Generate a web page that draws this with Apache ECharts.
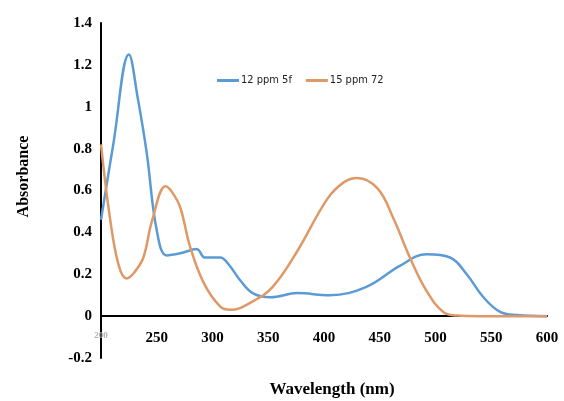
<!DOCTYPE html>
<html>
<head>
<meta charset="utf-8">
<script src="https://cdn.jsdelivr.net/npm/echarts@6/dist/echarts.min.js"></script>
<style>
  html, body { margin: 0; padding: 0; background: #fff; }
  #main { width: 564px; height: 401px; }
</style>
</head>
<body>
<div id="main"></div>
<script>
// series names
var seriesNames = ['12 ppm 5f', '15 ppm 72'];

// 12 ppm 5f (blue)
var blueX = [200, 211, 225, 233, 241, 250, 259, 271, 286, 293, 307, 314, 325, 336, 352, 376, 405, 438, 468, 492, 513, 528, 543, 558, 573, 600];
var blueY = [0.46, 0.82, 1.25, 1.04, 0.78, 0.41, 0.29, 0.30, 0.32, 0.28, 0.28, 0.25, 0.17, 0.11, 0.09, 0.11, 0.10, 0.14, 0.24, 0.295, 0.28, 0.20, 0.09, 0.02, 0.005, 0];

// 15 ppm 72 (orange)
var orangeX = [200, 208, 216, 223, 230, 238, 246, 258, 264, 271, 280, 292, 307, 316, 336, 354, 376, 403, 418, 430, 448, 462, 477, 492, 507, 519, 540, 600];
var orangeY = [0.82, 0.47, 0.24, 0.18, 0.21, 0.28, 0.46, 0.62, 0.59, 0.52, 0.33, 0.16, 0.045, 0.03, 0.07, 0.14, 0.31, 0.56, 0.64, 0.66, 0.61, 0.47, 0.28, 0.12, 0.02, 0.003, 0, 0];

function pairs(xs, ys) {
    var out = [];
    for (var i = 0; i < xs.length; i++) out.push([xs[i], ys[i]]);
    return out;
}

var chart = echarts.init(document.getElementById('main'));
var serif = '"Liberation Serif", "Times New Roman", serif';

var option = {
    animation: false,
    color: ['#5b9bd5', '#df9868'],
    grid: { left: 101, right: 17, top: 23, bottom: 43, containLabel: false, outerBoundsMode: 'none' },
    legend: {
        left: 212,
        top: 70,
        icon: 'rect',
        itemWidth: 22,
        itemHeight: 3,
        itemGap: 14,
        textStyle: { fontFamily: '"Liberation Sans Narrow", "DejaVu Sans Condensed", sans-serif', fontSize: 11, color: '#222', padding: [0, 0, 0, -3] },
        data: seriesNames
    },
    xAxis: {
        type: 'value',
        min: 200,
        max: 600,
        interval: 50,
        name: 'Wavelength (nm)',
        nameLocation: 'middle',
        nameGap: 23,
        nameTextStyle: { fontFamily: serif, fontWeight: 'bold', fontSize: 17, color: '#000', padding: [0, 0, 0, 16] },
        axisLine: { onZero: true, lineStyle: { color: '#000', width: 2 } },
        axisTick: { show: false },
        splitLine: { show: false },
        axisLabel: {
            margin: -27,
            fontFamily: serif,
            fontWeight: 'bold',
            fontSize: 15,
            color: '#000',
            formatter: function (v) { return v === 200 ? '{f|' + v + '}' : v; },
            rich: { f: { color: '#b0b0b0', fontSize: 9, fontFamily: serif } }
        }
    },
    yAxis: {
        type: 'value',
        min: -0.2,
        max: 1.4,
        interval: 0.2,
        name: 'Absorbance',
        nameLocation: 'middle',
        nameGap: 69,
        nameTextStyle: { fontFamily: serif, fontWeight: 'bold', fontSize: 16, color: '#000', padding: [0, 0, 0, 28] },
        axisLine: { show: true, lineStyle: { color: '#000', width: 2 } },
        axisTick: { show: false },
        splitLine: { show: false },
        axisLabel: {
            margin: 9,
            fontFamily: serif,
            fontWeight: 'bold',
            fontSize: 15,
            color: '#000',
            formatter: function (v) { return +v.toFixed(1); }
        }
    },
    series: [
        {
            name: seriesNames[0],
            type: 'line',
            smooth: 0.4,
            showSymbol: false,
            lineStyle: { width: 2.5 },
            data: pairs(blueX, blueY)
        },
        {
            name: seriesNames[1],
            type: 'line',
            smooth: 0.4,
            showSymbol: false,
            lineStyle: { width: 2.5 },
            data: pairs(orangeX, orangeY)
        }
    ]
};

chart.setOption(option);
</script>
</body>
</html>
